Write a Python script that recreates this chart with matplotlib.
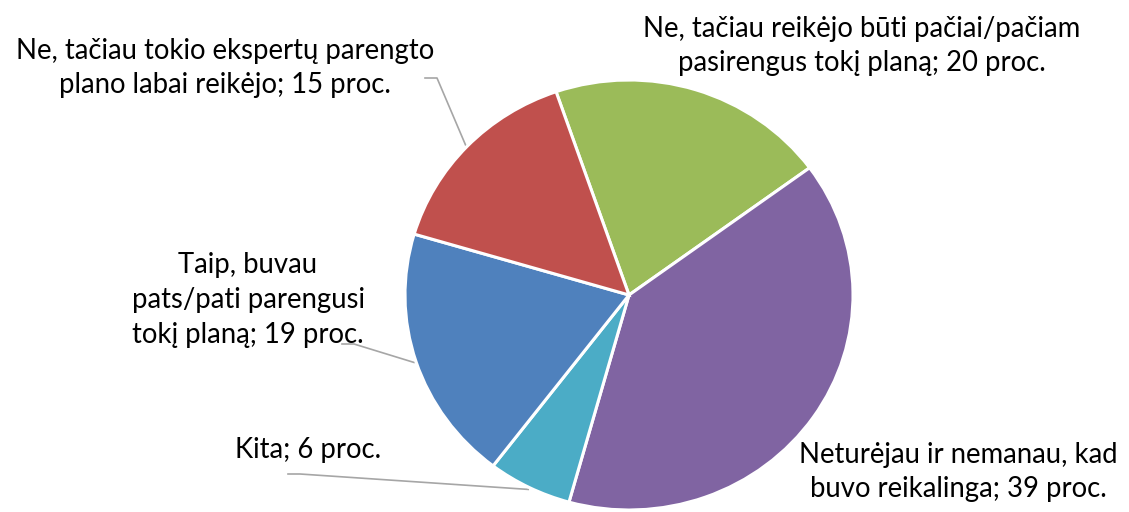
#!/usr/bin/env python3
"""Pie chart: ar turėjote ekspertų parengtą planą (proc.)."""
import matplotlib
matplotlib.use("Agg")
import matplotlib.pyplot as plt
import numpy as np

# data (clockwise from the top, as drawn)
LABELS = [
    "Ne, tačiau reikėjo būti pačiai/pačiam\npasirengus tokį planą; 20 proc.",
    "Neturėjau ir nemanau, kad\nbuvo reikalinga; 39 proc.",
    "Kita; 6 proc.",
    "Taip, buvau\npats/pati parengusi\ntokį planą; 19 proc.",
    "Ne, tačiau tokio ekspertų parengto\nplano labai reikėjo; 15 proc.",
]
VALUES = [20, 39, 6, 19, 15]
COLORS = ["#9BBB59", "#8064A2", "#4BACC6", "#4F81BD", "#C0504D"]

# layout, in image pixels (origin top-left)
W, H = 1129, 512
CX, CY, RX, RY = 629, 295, 224, 215
START = 109.0
# label centre, and leader start (None = no leader)
LABEL_POS = [(862, 46), (958, 472), (308, 450), (248, 300), (225, 68)]
LEADER_FROM = [None, None, (288, 474), (342, 344), (425, 78)]
LEADER_STEP = 12


def to_data(px, py):
    return (px - CX) / RX, (CY - py) / RY


fig = plt.figure(figsize=(W / 100, H / 100), dpi=100)
ax = fig.add_axes([0, 0, 1, 1])
ax.pie(VALUES, colors=COLORS, startangle=START, counterclock=False,
       wedgeprops=dict(edgecolor="white", linewidth=2.2))
ax.set_aspect("auto")
x0, _ = to_data(0, 0)
x1, _ = to_data(W, 0)
_, y0 = to_data(0, H)
_, y1 = to_data(0, 0)
ax.set_xlim(x0, x1)
ax.set_ylim(y0, y1)
ax.axis("off")

total = float(sum(VALUES))
cum = 0.0
for lab, v, pos, lf in zip(LABELS, VALUES, LABEL_POS, LEADER_FROM):
    mid = START - 360.0 * (cum + v / 2) / total
    cum += v
    tx, ty = to_data(*pos)
    ax.text(tx, ty, lab, ha="center", va="center", fontsize=19.8,
            family="Lato", color="black", linespacing=1.42)
    if lf is not None:
        # leader: short flat stub, then to the slice edge at mid-angle
        ex, ey = np.cos(np.radians(mid)) * 1.01, np.sin(np.radians(mid)) * 1.01
        sx, sy = to_data(*lf)
        bx, by = to_data(lf[0] + LEADER_STEP, lf[1])
        ax.plot([sx, bx, ex], [sy, by, ey], color="#A6A6A6", lw=1.2,
                clip_on=False, zorder=0)

fig.savefig("out.png", dpi=100)
